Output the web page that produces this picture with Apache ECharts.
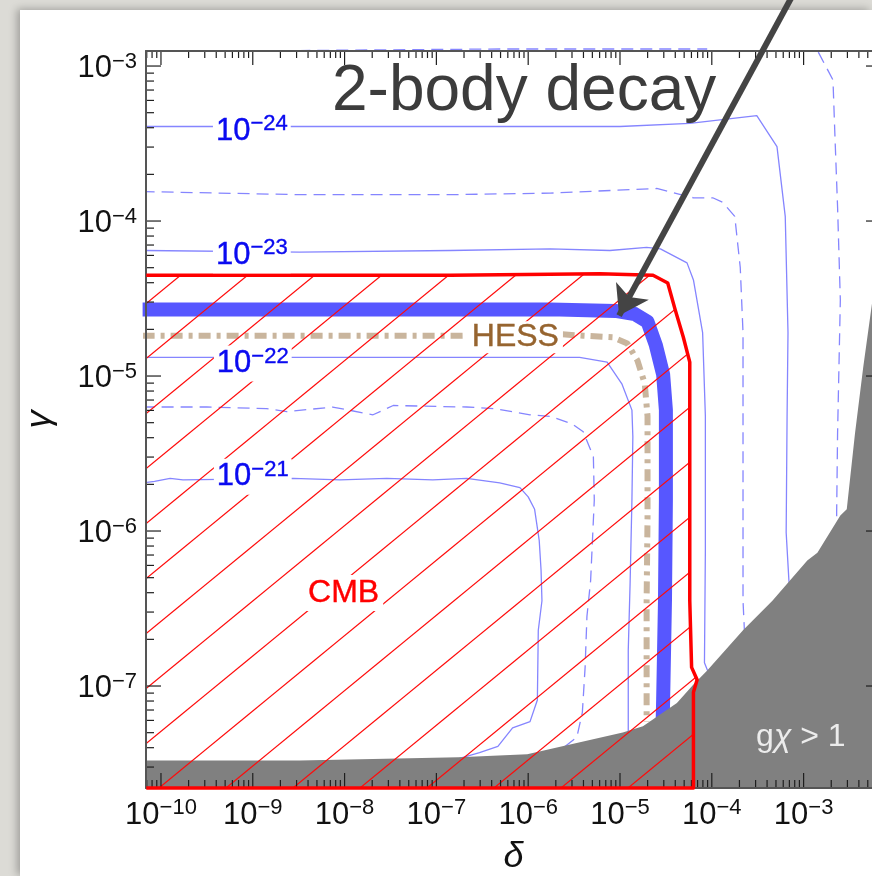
<!DOCTYPE html>
<html>
<head>
<meta charset="utf-8">
<script src="https://cdn.jsdelivr.net/npm/echarts@6/dist/echarts.min.js"></script>
<style>
html, body { margin: 0; padding: 0; }
body { width: 872px; height: 876px; background: #dcdbd6; position: relative; overflow: hidden; }
#paper { position: absolute; left: 20px; top: 10px; right: 0; bottom: 0; background: #fff; box-shadow: -3px -1px 8px rgba(0,0,0,0.28); }
#chart { position: absolute; left: 0; top: 0; width: 872px; height: 876px; }
</style>
</head>
<body>
<div id="paper"></div>
<div id="chart"></div>
<script>
//Everything is in log10 units: x = log10(delta), y = log10(gamma)
const xMin = -10.163, xMax = -2.157;
const yMin = -7.658, yMax = -2.903;

//Tick labels (decades)
const xDecades = [-10, -9, -8, -7, -6, -5, -4, -3];
const yDecades = [-7, -6, -5, -4, -3];

//Decay rate contours
const rate24 = [[-10.2,-3.39],[-5.76,-3.39],[-5.00,-3.39],[-4.24,-3.37],[-3.51,-3.32],[-3.29,-3.52],
	[-3.20,-3.97],[-3.17,-4.72],[-3.18,-5.26],[-3.19,-6.01],[-3.16,-6.32],[-3.09,-6.70]];
const rate245 = [[-10.2,-3.81],[-8.49,-3.83],[-6.85,-3.83],[-5.76,-3.82],[-4.60,-3.79],[-4.20,-3.85],
	[-3.99,-3.85],[-3.88,-3.88],[-3.75,-3.97],[-3.69,-4.30],[-3.66,-4.72],[-3.66,-5.80],[-3.66,-6.45],[-3.63,-6.83]];
const rate25Top = [[-10.16,-2.90],[-8.49,-2.90],[-6.31,-2.89],[-4.05,-2.89]];
const rate25Side = [[-2.84,-2.91],[-2.68,-3.09],[-2.66,-3.43],[-2.63,-3.91],[-2.60,-4.51],[-2.63,-5.37],
	[-2.64,-5.88],[-2.64,-6.19]];
const rate23 = [[-10.2,-4.19],[-8.49,-4.20],[-6.85,-4.19],[-5.76,-4.18],[-5.11,-4.19],[-4.71,-4.17],
	[-4.56,-4.18],[-4.27,-4.27],[-4.20,-4.38],[-4.10,-4.72],[-4.07,-5.26],[-4.07,-6.12],[-4.08,-6.85],
	[-4.04,-6.91],[-3.96,-7.09]];
const rate225 = [[-10.2,-5.20],[-9.50,-5.20],[-8.85,-5.21],[-8.63,-5.23],[-8.13,-5.20],[-7.69,-5.25],
	[-7.47,-5.19],[-6.67,-5.20],[-6.38,-5.21],[-5.98,-5.25],[-5.76,-5.26],[-5.52,-5.31],[-5.40,-5.36],
	[-5.29,-5.52],[-5.28,-5.80],[-5.32,-6.32],[-5.36,-6.55],[-5.38,-6.88],[-5.41,-7.17],[-5.47,-7.33],
	[-5.60,-7.39],[-5.71,-7.41],[-5.87,-7.48]];
const rate22 = [[-10.2,-4.88],[-8.49,-4.88],[-6.85,-4.88],[-5.44,-4.88],[-5.14,-4.91],[-4.98,-5.05],
	[-4.87,-5.22],[-4.86,-5.39],[-4.87,-5.80],[-4.89,-6.34],[-4.91,-6.77],[-4.91,-7.38]];
const rate21 = [[-10.2,-5.69],[-10.07,-5.68],[-9.90,-5.66],[-9.76,-5.67],[-8.56,-5.66],[-8.05,-5.67],
	[-7.54,-5.66],[-7.04,-5.67],[-6.67,-5.66],[-6.31,-5.69],[-6.09,-5.72],[-6.00,-5.78],[-5.93,-5.86],
	[-5.88,-6.06],[-5.86,-6.25],[-5.85,-6.45],[-5.89,-6.64],[-5.90,-7.09],[-5.98,-7.23],[-6.17,-7.27],
	[-6.33,-7.39],[-6.53,-7.43],[-6.71,-7.46],[-6.96,-7.51]];

//2-body decay bound (thick blue)
const twoBody = [[-10.2,-4.57],[-7.40,-4.57],[-5.76,-4.57],[-5.05,-4.58],[-4.84,-4.60],[-4.70,-4.65],
	[-4.61,-4.80],[-4.53,-4.99],[-4.50,-5.22],[-4.50,-5.80],[-4.51,-6.45],[-4.53,-7.09],[-4.54,-7.35]];

//HESS bound
const hess = [[-10.2,-4.74],[-8.49,-4.74],[-6.74,-4.74],[-5.65,-4.73],[-5.40,-4.74],[-5.08,-4.75],
	[-4.92,-4.79],[-4.81,-4.90],[-4.73,-5.05],[-4.70,-5.26],[-4.70,-5.91],[-4.71,-6.45],[-4.71,-7.23]];

//CMB excluded region
const cmb = [[-10.16,-4.35],[-8.49,-4.35],[-6.85,-4.35],[-5.22,-4.34],[-4.64,-4.35],[-4.48,-4.40],
	[-4.40,-4.57],[-4.31,-4.75],[-4.24,-4.91],[-4.24,-5.48],[-4.24,-6.45],[-4.22,-6.88],[-4.16,-6.96],
	[-4.20,-7.04],[-4.20,-7.658],[-10.16,-7.658]];

//g chi > 1 region
const strongCoupling = [[-10.3,-7.48],[-9.48,-7.48],[-8.49,-7.48],[-6.76,-7.46],[-6.01,-7.44],[-4.97,-7.30],
	[-4.75,-7.26],[-4.38,-7.11],[-4.20,-6.99],[-4.05,-6.90],[-3.66,-6.64],[-3.34,-6.45],[-2.96,-6.19],
	[-2.85,-6.14],[-2.60,-5.90],[-2.53,-5.86],[-2.44,-5.37],[-2.35,-4.94],[-2.25,-4.51],[-2.15,-4.03],
	[-2.06,-3.54],[-1.9,-3.54],[-1.9,-7.8],[-10.3,-7.8]];

//Labels
const rateLabelPos = [[-9.01,-3.42],[-9.01,-4.22],[-9.00,-4.92],[-9.00,-5.65]];
const rateLabelExp = [-24, -23, -22, -21];
const noteText = ['HESS', 'CMB', 'g{i|\u03c7} > 1'];
const notePos = [[-6.14,-4.75],[-8.01,-6.40],[-3.03,-7.33]];

//Arrow pointing at the 2-body line
const arrowPath = [[-2.97,-2.38],[-5.01,-4.61]];


const FONT = '"Liberation Sans", Arial, sans-serif';

function minorTicks(lo, hi) {
	let out = [];
	for (let d = Math.floor(lo); d < Math.ceil(hi); d++) {
		for (let k = 2; k < 10; k++) {
			let v = d + Math.log10(k);
			if (v > lo && v < hi) out.push(v);
		}
	}
	return out;
}

function hatchPattern() {
	//tile sized so the diagonal lines join up from tile to tile
	let W = 67, H = 55;
	let c = document.createElement('canvas');
	c.width = W;
	c.height = H;
	let g = c.getContext('2d');
	g.strokeStyle = '#ff0a0a';
	g.lineWidth = 1.25;
	for (let k = -2; k <= 2; k++) {
		let s = k + 0.7;
		g.beginPath();
		g.moveTo(-W, H * (s + 1));
		g.lineTo(2 * W, H * (s - 2));
		g.stroke();
	}
	return c;
}

const frame = { show: true, onZero: false, lineStyle: { color: '#555', width: 2 } };
const tickRich = {
	b: { fontSize: 31, lineHeight: 36, fontFamily: FONT, color: '#111' },
	s: { fontSize: 22, lineHeight: 18, verticalAlign: 'top', fontFamily: FONT, color: '#111' }
};
const powerLabel = v => '{b|10}{s|\u2212' + Math.round(-v) + '}';
const nameStyle = { fontSize: 36, fontStyle: 'italic', fontFamily: FONT, color: '#111' };

function axis(position, min, max, extra) {
	return Object.assign({
		type: 'value', position: position, min: min, max: max, z: 6,
		axisLine: frame,
		axisTick: { show: false },
		axisLabel: { show: false },
		splitLine: { show: false },
		minorTick: { show: false }
	}, extra || {});
}

function curve(data, color, width, type, z, clip) {
	return {
		type: 'line', data: data, symbol: 'none', silent: true, z: z, clip: clip !== false,
		lineStyle: { color: color, width: width, type: type, cap: 'butt', join: 'round' }
	};
}

function region(points, fill, z) {
	return {
		type: 'custom', coordinateSystem: 'cartesian2d', silent: true, z: z, clip: true,
		data: [points[0]],
		renderItem: function (params, api) {
			return {
				type: 'polygon',
				shape: { points: points.map(p => api.coord(p)) },
				style: { fill: fill, stroke: 'none' }
			};
		}
	};
}

let xMinor = minorTicks(xMin, xMax);
let yMinor = minorTicks(yMin, yMax);

//Inward log ticks on all four sides of the frame: decades long, 2..9 short
function frameTickSeries() {
	return {
		type: 'custom', coordinateSystem: 'cartesian2d', silent: true, z: 6, clip: false,
		data: [[xMin, yMin]],
		renderItem: function (params, api) {
			let lo = api.coord([xMin, yMin]);
			let hi = api.coord([xMax, yMax]);
			let kids = [];
			let seg = (x1, y1, x2, y2) => ({
				type: 'line', shape: { x1: x1, y1: y1, x2: x2, y2: y2 },
				style: { stroke: '#1e1e1e', lineWidth: 1.2 }
			});
			let xTicks = (vals, bottomLen, topLen) => vals.forEach(v => {
				let x = api.coord([v, yMin])[0];
				kids.push(seg(x, lo[1], x, lo[1] - bottomLen), seg(x, hi[1], x, hi[1] + topLen));
			});
			let yTicks = (vals, len) => vals.forEach(v => {
				let y = api.coord([xMin, v])[1];
				kids.push(seg(lo[0], y, lo[0] + len, y), seg(hi[0], y, hi[0] - len, y));
			});
			xTicks(xDecades, 15, 14);
			xTicks(xMinor, 8, 7);
			yTicks(yDecades, 15);
			yTicks(yMinor, 8);
			return { type: 'group', children: kids };
		}
	};
}

let thin = '#8585ff';
let dash = [12, 7];
let blue = '#0a0af0';

let option = {
	backgroundColor: 'transparent',
	animation: false,
	grid: { left: 146, top: 51, right: -9, bottom: 88, outerBoundsMode: 'none', containLabel: false },
	xAxis: [
		axis('bottom', xMin, xMax, {
			axisLabel: { show: true, customValues: xDecades, formatter: powerLabel, margin: 9, rich: tickRich },
			name: '\u03b4', nameLocation: 'middle', nameGap: 51, nameTextStyle: nameStyle
		}),
		axis('top', xMin, xMax)
	],
	yAxis: [
		axis('left', yMin, yMax, {
			axisLabel: { show: true, customValues: yDecades, formatter: powerLabel, margin: 9, rich: tickRich, padding: [5, 0, 0, 0] },
			name: '\u03b3', nameLocation: 'middle', nameGap: 88, nameRotate: 90, nameTextStyle: nameStyle
		}),
		axis('right', yMin, yMax)
	],
	graphic: [{
		type: 'text', left: 332, top: 60, silent: true, z: 10,
		style: { text: '2-body decay', font: '64px "Liberation Sans", Arial, sans-serif', fill: '#3c3c3c' }
	}],
	series: [
		curve(rate24, thin, 1.3, 'solid', 2),
		curve(rate245, thin, 1.3, dash, 2),
		curve(rate25Top, thin, 1.3, dash, 2, false),
		curve(rate25Side, thin, 1.3, dash, 2),
		curve(rate23, thin, 1.3, 'solid', 2),
		curve(rate225, thin, 1.3, dash, 2),
		curve(rate22, thin, 1.3, 'solid', 2),
		curve(rate21, thin, 1.3, 'solid', 2),
		curve(twoBody, '#5757ff', 14, 'solid', 2),
		curve(hess, '#c9b59d', 6, [12, 6, 4, 6], 2),
		region(strongCoupling, '#808080', 3),
		region(cmb, { image: hatchPattern(), repeat: 'repeat' }, 4),
		frameTickSeries(),
		curve(cmb, '#ff0000', 3.5, 'solid', 7, false),
		{
			type: 'scatter', silent: true, z: 8, symbolSize: 2,
			itemStyle: { color: 'rgba(0,0,0,0)' },
			data: rateLabelPos.map((p, i) => ({ value: p, label: { formatter: '{b|10}{s|\u2212' + (-rateLabelExp[i]) + '}' } })),
			label: {
				show: true, position: 'inside', color: blue, opacity: 1, backgroundColor: '#fff', padding: [0, 3],
				rich: {
					b: { fontSize: 31, lineHeight: 36, fontFamily: FONT, color: blue, textBorderColor: blue, textBorderWidth: 0.4 },
					s: { fontSize: 22, lineHeight: 18, verticalAlign: 'top', fontFamily: FONT, color: blue, textBorderColor: blue, textBorderWidth: 0.4 }
				}
			}
		},
		{
			type: 'scatter', silent: true, z: 8, symbolSize: 2,
			itemStyle: { color: 'rgba(0,0,0,0)' },
			data: [
				{ value: notePos[0], label: { formatter: noteText[0], color: '#96642f', textBorderColor: '#96642f', textBorderWidth: 0.4, fontSize: 32, backgroundColor: '#fff', padding: [0, 4] } },
				{ value: notePos[1], label: { formatter: noteText[1], color: '#ff0000', textBorderColor: '#ff0000', textBorderWidth: 0.4, fontSize: 32, backgroundColor: '#fff', padding: [2, 4] } },
				{ value: notePos[2], label: { formatter: noteText[2], color: '#ececec', fontSize: 32 } }
			],
			label: {
				show: true, position: 'inside', fontFamily: FONT, opacity: 1,
				rich: { i: { fontStyle: 'italic', fontSize: 32, fontFamily: FONT, color: '#ececec' } }
			}
		},
		{
			type: 'lines', coordinateSystem: 'cartesian2d', silent: true, z: 9, clip: false,
			symbol: ['none', 'arrow'], symbolSize: 28,
			lineStyle: { color: '#444', width: 6, opacity: 1, curveness: 0 },
			data: [{ coords: arrowPath }]
		}
	]
};

window.onload = function () {
	let chart = echarts.init(document.getElementById('chart'), null, { renderer: 'canvas' });
	chart.setOption(option);
};
</script>
</body>
</html>
